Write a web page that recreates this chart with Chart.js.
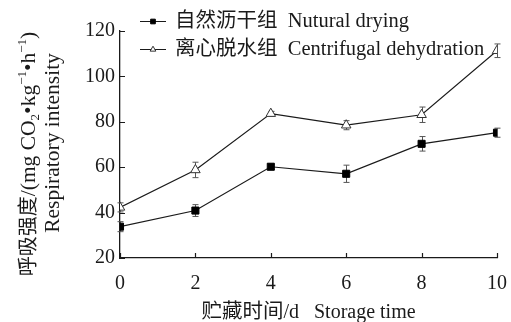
<!DOCTYPE html>
<html>
<head>
<meta charset="utf-8">
<script src="https://cdn.jsdelivr.net/npm/chart.js@4/dist/chart.umd.min.js"></script>
<style>
  html, body { margin: 0; padding: 0; background: #fff; }
  #wrap { width: 511px; height: 322px; }
</style>
</head>
<body>
<div id="wrap"><canvas id="c" width="511" height="322"></canvas></div>
<script>
// Storage time (days) and respiratory intensity, mg CO2·kg^-1·h^-1
const days = [0, 2, 4, 6, 8, 10];
const naturalDrying = [33.8, 40.9, 60.2, 57.1, 70.3, 75.2];
const naturalErr = [2.2, 2.6, 1.2, 3.8, 3.2, 2.0];
const centrifugal = [42.3, 58.8, 83.6, 78.5, 83.1, 111.3];
const centrifugalErr = [2.0, 3.4, 1.0, 2.0, 3.4, 3.0];

const seriesZh = ['自然沥干组', '离心脱水组'];
const seriesEn = ['Nutural drying', 'Centrifugal dehydration'];

const SERIF = "'Liberation Serif', 'Times New Roman', serif";
const CJK = "'Noto Sans CJK SC', sans-serif";
const INK = '#1a1a1a';

const serif = (px) => px + 'px ' + SERIF;
const cjk = (px) => px + 'px ' + CJK;

// axis titles as runs of differently styled text
const xTitleRuns = [
  { t: '贮藏时间', font: cjk(20.5) },
  { t: '/d', font: serif(20) },
  { t: '   Storage time', font: serif(20) }
];
const yTitleRuns = [
  { t: '呼吸强度', font: cjk(20) },
  { t: '/(mg CO', font: serif(21.5) },
  { t: '2', font: serif(13), dy: 4 },
  { t: '•kg', font: serif(21.5) },
  { t: '−1', font: serif(13), dy: -9 },
  { t: '•h', font: serif(21.5) },
  { t: '−1', font: serif(13), dy: -9 },
  { t: ')', font: serif(21.5) }
];
const yTitleRuns2 = [{ t: 'Respiratory intensity', font: serif(21.5) }];

function pts(vals) { return days.map((d, i) => ({ x: d, y: vals[i] })); }

// draws a row of runs centred on (x, y) at the baseline, optionally rotated
function drawRuns(ctx, runs, x, y, rot, align) {
  ctx.save();
  ctx.translate(x, y);
  ctx.rotate(rot || 0);
  ctx.textBaseline = 'alphabetic';
  ctx.textAlign = 'left';
  ctx.fillStyle = INK;
  let w = 0;
  const widths = runs.map(r => { ctx.font = r.font; const m = ctx.measureText(r.t).width; w += m; return m; });
  let cx = align === 'left' ? 0 : -w / 2;
  runs.forEach((r, i) => { ctx.font = r.font; ctx.fillText(r.t, cx, r.dy || 0); cx += widths[i]; });
  ctx.restore();
}

// vertical error bars with caps, drawn under the markers
const errorBars = {
  id: 'errorBars',
  beforeDatasetsDraw(chart) {
    const ctx = chart.ctx, xs = chart.scales.x, ys = chart.scales.y;
    ctx.save();
    ctx.strokeStyle = '#555';
    ctx.lineWidth = 1;
    chart.data.datasets.forEach(ds => {
      ds.data.forEach((p, i) => {
        const e = ds.errors[i];
        const px = Math.round(xs.getPixelForValue(p.x)) + 0.5;
        const y1 = ys.getPixelForValue(p.y + e);
        const y2 = ys.getPixelForValue(p.y - e);
        ctx.beginPath();
        ctx.moveTo(px, y1); ctx.lineTo(px, y2);
        ctx.moveTo(px - 3, y1); ctx.lineTo(px + 3, y1);
        ctx.moveTo(px - 3, y2); ctx.lineTo(px + 3, y2);
        ctx.stroke();
      });
    });
    ctx.restore();
  }
};

// tick marks pointing into the plot area, plus the axis titles
const axisDecor = {
  id: 'axisDecor',
  afterDraw(chart) {
    const ctx = chart.ctx, xs = chart.scales.x, ys = chart.scales.y;
    const a = chart.chartArea;
    ctx.save();
    ctx.strokeStyle = INK;
    ctx.lineWidth = 1.2;
    ctx.beginPath();
    xs.ticks.forEach(t => {
      const px = Math.round(xs.getPixelForValue(t.value)) + 0.5;
      ctx.moveTo(px, a.bottom); ctx.lineTo(px, a.bottom - 5);
    });
    ys.ticks.forEach(t => {
      const py = Math.round(ys.getPixelForValue(t.value)) + 0.5;
      ctx.moveTo(a.left, py); ctx.lineTo(a.left + 5, py);
    });
    ctx.stroke();
    ctx.restore();

    const midX = (a.left + a.right) / 2;
    drawRuns(ctx, xTitleRuns, midX, 318, 0);
    drawRuns(ctx, yTitleRuns, 35, 154, -Math.PI / 2);
    drawRuns(ctx, yTitleRuns2, 59, 143, -Math.PI / 2);
  }
};

// legend: short line with the series marker, then the label
const lineLegend = {
  id: 'lineLegend',
  afterDraw(chart) {
    const ctx = chart.ctx;
    chart.data.datasets.forEach((ds, i) => {
      const y = 21 + i * 28;
      ctx.save();
      ctx.strokeStyle = ds.borderColor;
      ctx.lineWidth = 1;
      ctx.beginPath();
      ctx.moveTo(140, y + 0.5); ctx.lineTo(166, y + 0.5);
      ctx.stroke();
      ctx.fillStyle = ds.pointBackgroundColor;
      ctx.strokeStyle = ds.pointBorderColor;
      ctx.lineWidth = 1;
      Chart.helpers.drawPoint(ctx, { pointStyle: ds.pointStyle, radius: 3.3, borderWidth: 1 }, 153, y + 0.5);
      ctx.restore();
      drawRuns(ctx, [
        { t: seriesZh[i], font: cjk(20.5) },
        { t: '  ' + seriesEn[i], font: serif(20.5) }
      ], 175, y + 6, 0, 'left');
    });
  }
};

new Chart(document.getElementById('c'), {
  type: 'line',
  data: {
    datasets: [
      {
        label: seriesZh[0] + ' ' + seriesEn[0],
        data: pts(naturalDrying),
        errors: naturalErr,
        borderColor: INK,
        borderWidth: 1.2,
        pointStyle: 'rect',
        pointRadius: 5,
        pointBorderWidth: 1,
        pointBackgroundColor: '#000',
        pointBorderColor: '#000',
        tension: 0
      },
      {
        label: seriesZh[1] + ' ' + seriesEn[1],
        data: pts(centrifugal),
        errors: centrifugalErr,
        borderColor: INK,
        borderWidth: 1.2,
        pointStyle: 'triangle',
        pointRadius: 5.5,
        pointBorderWidth: 1,
        pointBackgroundColor: '#fff',
        pointBorderColor: '#333',
        tension: 0
      }
    ]
  },
  options: {
    responsive: false,
    animation: false,
    devicePixelRatio: 1,
    layout: { padding: { top: 31, right: 14, left: 0, bottom: 0 } },
    plugins: { legend: { display: false }, tooltip: { enabled: false } },
    scales: {
      x: {
        type: 'linear',
        min: 0, max: 10,
        ticks: { stepSize: 2, color: INK, padding: 14, font: { family: SERIF, size: 20 } },
        grid: { display: true, drawOnChartArea: false, drawTicks: false },
        border: { display: true, color: INK, width: 1.3 },
        afterFit(s) { s.height = 64; s.paddingLeft = 0; s.paddingRight = 0; }
      },
      y: {
        min: 20, max: 120,
        ticks: { stepSize: 20, color: INK, padding: 5, font: { family: SERIF, size: 20 } },
        grid: { display: true, drawOnChartArea: false, drawTicks: false },
        border: { display: true, color: INK, width: 1.3 },
        afterFit(s) { s.width = 120; s.paddingTop = 0; s.paddingBottom = 0; }
      }
    }
  },
  plugins: [errorBars, axisDecor, lineLegend]
});
</script>
</body>
</html>
